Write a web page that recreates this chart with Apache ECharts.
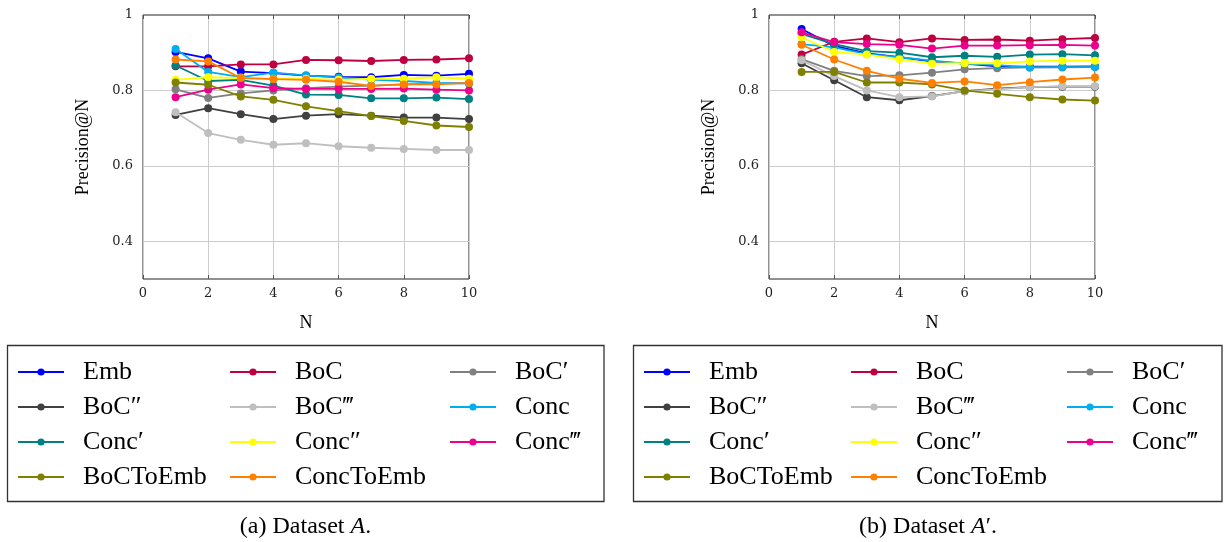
<!DOCTYPE html>
<html>
<head>
<meta charset="utf-8">
<title>Precision@N</title>
<script src="https://cdn.jsdelivr.net/npm/echarts@6/dist/echarts.min.js"></script>
<style>
  html, body { margin: 0; padding: 0; background: #fff; }
  #chart { width: 1225px; height: 542px; }
</style>
</head>
<body>
<div id="chart"></div>
<script>
const nValues = [1, 2, 3, 4, 5, 6, 7, 8, 9, 10];
const methodNames = ['Emb', 'BoC', 'BoC′', 'BoC″', 'BoC‴', 'Conc', 'Conc′', 'Conc″', 'Conc‴', 'BoCToEmb', 'ConcToEmb'];
const methodColors = ['#0000ff', '#bf0040', '#808080', '#404040', '#bfbfbf', '#00aeef', '#008080', '#ffff00', '#ec008c', '#808000', '#ff8000'];
const yTickValues = [0.4, 0.6, 0.8, 1];

// Dataset A
const embA = [0.902, 0.885, 0.85, 0.846, 0.839, 0.836, 0.835, 0.841, 0.839, 0.844];
const bocA = [0.864, 0.864, 0.869, 0.869, 0.881, 0.88, 0.878, 0.881, 0.882, 0.885];
const boc1A = [0.803, 0.78, 0.792, 0.8, 0.806, 0.81, 0.813, 0.816, 0.818, 0.82];
const boc2A = [0.735, 0.753, 0.737, 0.724, 0.733, 0.737, 0.733, 0.728, 0.728, 0.724];
const boc3A = [0.742, 0.687, 0.669, 0.656, 0.66, 0.652, 0.648, 0.645, 0.642, 0.642];
const concA = [0.91, 0.849, 0.835, 0.847, 0.84, 0.834, 0.829, 0.825, 0.82, 0.818];
const conc1A = [0.866, 0.825, 0.828, 0.813, 0.789, 0.788, 0.779, 0.779, 0.781, 0.777];
const conc2A = [0.828, 0.835, 0.833, 0.831, 0.831, 0.828, 0.831, 0.831, 0.835, 0.831];
const conc3A = [0.782, 0.802, 0.816, 0.806, 0.804, 0.804, 0.804, 0.805, 0.802, 0.8];
const bocToEmbA = [0.821, 0.815, 0.784, 0.775, 0.758, 0.745, 0.732, 0.719, 0.707, 0.703];
const concToEmbA = [0.882, 0.877, 0.833, 0.83, 0.828, 0.823, 0.812, 0.816, 0.816, 0.82];

// Dataset A'
const embB = [0.963, 0.918, 0.898, 0.888, 0.877, 0.871, 0.864, 0.863, 0.863, 0.864];
const bocB = [0.895, 0.929, 0.938, 0.928, 0.938, 0.934, 0.935, 0.932, 0.936, 0.939];
const boc1B = [0.883, 0.852, 0.838, 0.84, 0.847, 0.856, 0.859, 0.861, 0.861, 0.862];
const boc2B = [0.872, 0.827, 0.782, 0.774, 0.785, 0.798, 0.805, 0.809, 0.81, 0.81];
const boc3B = [0.88, 0.838, 0.8, 0.782, 0.784, 0.798, 0.803, 0.809, 0.811, 0.811];
const concB = [0.923, 0.914, 0.896, 0.888, 0.879, 0.871, 0.867, 0.861, 0.862, 0.862];
const conc1B = [0.95, 0.923, 0.904, 0.9, 0.888, 0.892, 0.889, 0.895, 0.896, 0.893];
const conc2B = [0.941, 0.902, 0.895, 0.883, 0.871, 0.872, 0.872, 0.877, 0.879, 0.879];
const conc3B = [0.954, 0.928, 0.923, 0.921, 0.911, 0.919, 0.919, 0.92, 0.921, 0.919];
const bocToEmbB = [0.849, 0.849, 0.821, 0.821, 0.816, 0.8, 0.791, 0.782, 0.776, 0.773];
const concToEmbB = [0.921, 0.882, 0.852, 0.831, 0.82, 0.824, 0.814, 0.822, 0.829, 0.834];

const datasetA = [embA, bocA, boc1A, boc2A, boc3A, concA, conc1A, conc2A, conc3A, bocToEmbA, concToEmbA];
const datasetB = [embB, bocB, boc1B, boc2B, boc3B, concB, conc1B, conc2B, conc3B, bocToEmbB, concToEmbB];

const serif = '"Liberation Serif", "Times New Roman", serif';
const tickFont = '"DejaVu Serif", serif';
const gridLeft = [143, 769];

const grids = gridLeft.map((left) => ({
  left,
  top: 15,
  width: 326,
  height: 264,
  show: true,
  borderColor: '#222',
  borderWidth: 1,
  backgroundColor: 'transparent',
}));

const xAxes = [];
const yAxes = [];

gridLeft.forEach((l, g) => {
  xAxes.push({
    type: 'value',
    gridIndex: g,
    position: 'bottom',
    min: 0,
    max: 10,
    interval: 2,
    name: 'N',
    nameLocation: 'middle',
    nameGap: 35,
    nameTextStyle: { fontFamily: serif, fontSize: 18, color: '#000' },
    axisLine: { show: false },
    axisTick: { show: true, inside: true, length: 4, lineStyle: { color: '#555' } },
    axisLabel: { fontFamily: tickFont, fontSize: 13, color: '#222', margin: 8 },
    splitLine: { show: true, lineStyle: { color: '#cccccc', width: 1 } },
  });
  xAxes.push({
    type: 'value',
    gridIndex: g,
    position: 'top',
    min: 0,
    max: 10,
    interval: 2,
    axisLine: { show: false },
    axisTick: { show: true, inside: true, length: 4, lineStyle: { color: '#555' } },
    axisLabel: { show: false },
    splitLine: { show: false },
  });
  yAxes.push({
    type: 'value',
    gridIndex: g,
    position: 'left',
    min: 0.3,
    max: 1,
    name: 'Precision@N',
    nameLocation: 'middle',
    nameGap: 51,
    nameTextStyle: { fontFamily: serif, fontSize: 18, color: '#000' },
    axisLine: { show: false },
    axisTick: { show: false, customValues: [0.4, 0.6, 0.8] },
    axisLabel: {
      customValues: yTickValues,
      fontFamily: tickFont,
      fontSize: 13,
      color: '#222',
      margin: 10,
      formatter: (v) => (Math.abs(v - 1) < 1e-9 ? '1' : String(Math.round(v * 10) / 10)),
    },
    splitLine: { show: true, lineStyle: { color: '#cccccc', width: 1 } },
  });
});

const series = [];
[datasetA, datasetB].forEach((dataset, g) => {
  dataset.forEach((values, i) => {
    series.push({
      type: 'line',
      name: methodNames[i],
      xAxisIndex: g * 2,
      yAxisIndex: g,
      data: nValues.map((n, k) => [n, values[k]]),
      symbol: 'circle',
      symbolSize: 8,
      showSymbol: true,
      animation: false,
      z: 3 + i,
      itemStyle: { color: methodColors[i] },
      lineStyle: { color: methodColors[i], width: 1.8 },
    });
  });
});

// three legend columns inside each box
const legendCols = [methodNames.filter((_, i) => i % 3 === 0),
  methodNames.filter((_, i) => i % 3 === 1),
  methodNames.filter((_, i) => i % 3 === 2)];
const legendLeft = [[17, 229, 449], [643, 850, 1066]];

const legends = [];
legendLeft.forEach((cols) => {
  cols.forEach((left, c) => {
    legends.push({
      data: legendCols[c],
      orient: 'vertical',
      left,
      top: 359,
      padding: 0,
      itemGap: 9,
      itemWidth: 46,
      itemHeight: 9,
      selectedMode: false,
      textStyle: {
        fontFamily: serif,
        fontSize: 26,
        lineHeight: 26,
        color: '#000',
        padding: [0, 0, 0, 14],
      },
    });
  });
});

const graphic = [
  { type: 'rect', shape: { x: 7.5, y: 345.5, width: 596.5, height: 156 }, style: { fill: 'none', stroke: '#333', lineWidth: 1.3 }, silent: true },
  { type: 'rect', shape: { x: 633.5, y: 345.5, width: 588.5, height: 156 }, style: { fill: 'none', stroke: '#333', lineWidth: 1.3 }, silent: true },
  {
    type: 'text',
    x: 305.5,
    y: 527,
    style: {
      text: '(a) Dataset {i|A}.',
      fontFamily: serif,
      fontSize: 24,
      fill: '#000',
      align: 'center',
      verticalAlign: 'middle',
      rich: { i: { fontFamily: serif, fontSize: 24, fontStyle: 'italic', fill: '#000' } },
    },
  },
  {
    type: 'text',
    x: 928,
    y: 527,
    style: {
      text: '(b) Dataset {i|A}′.',
      fontFamily: serif,
      fontSize: 24,
      fill: '#000',
      align: 'center',
      verticalAlign: 'middle',
      rich: { i: { fontFamily: serif, fontSize: 24, fontStyle: 'italic', fill: '#000' } },
    },
  },
];

const chart = echarts.init(document.getElementById('chart'), null, { renderer: 'canvas' });

chart.setOption({
  animation: false,
  backgroundColor: '#fff',
  grid: grids,
  xAxis: xAxes,
  yAxis: yAxes,
  legend: legends,
  graphic,
  series,
});
</script>
</body>
</html>
